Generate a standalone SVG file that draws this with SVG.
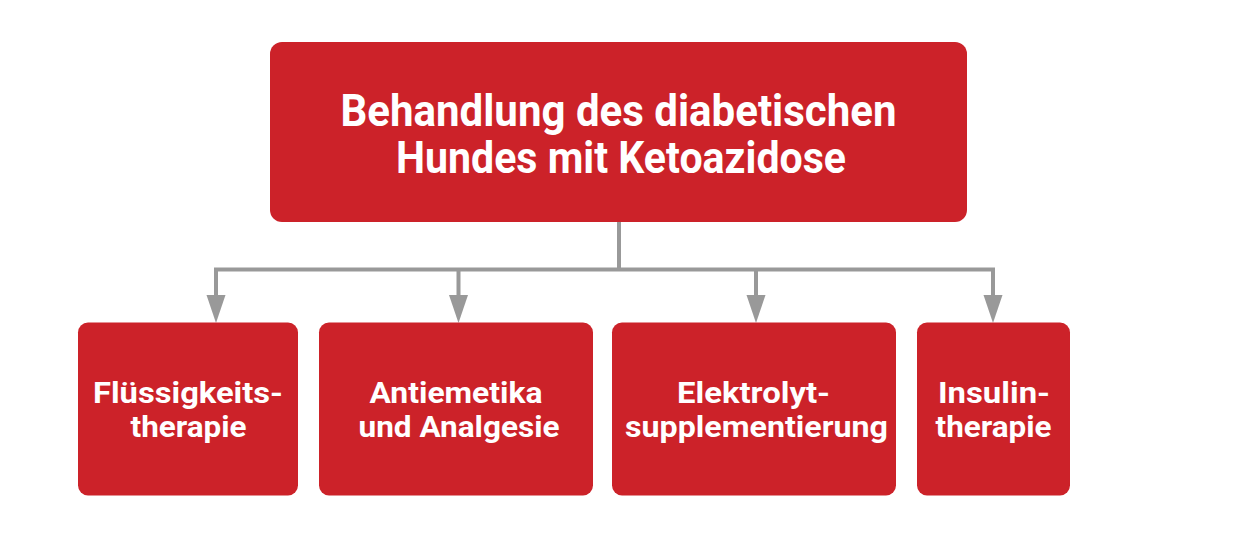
<svg xmlns="http://www.w3.org/2000/svg" width="1240" height="536" viewBox="0 0 1240 536">
  <defs>
    <style>
      .box { fill: #CC2229; }
      .title { font-family: Roboto, "Liberation Sans", sans-serif; font-weight: 700; font-size: 44px; fill: #ffffff; text-anchor: middle; }
      .lbl { font-family: Roboto, "Liberation Sans", sans-serif; font-weight: 700; font-size: 29px; fill: #ffffff; text-anchor: middle; }
      .conn { fill: none; stroke: #999999; stroke-width: 4; stroke-linejoin: miter; stroke-linecap: butt; }
      .head { fill: #999999; }
    </style>
  </defs>
  <rect width="1240" height="536" fill="#ffffff"/>

  <g id="connectors">
    <path class="conn" d="M619,222 V269.5 M216,296 V269.5 H993 V296 M458.5,269.5 V296 M756,269.5 V296"/>
    <polygon class="head" points="206.5,295 225.5,295 216,323"/>
    <polygon class="head" points="449,295 468,295 458.5,323"/>
    <polygon class="head" points="746.5,295 765.5,295 756,323"/>
    <polygon class="head" points="983.5,295 1002.5,295 993,323"/>
  </g>

  <g id="root">
    <rect class="box" x="270" y="42" width="697" height="180" rx="12"/>
    <text class="title" x="618.5" y="126" textLength="556" lengthAdjust="spacingAndGlyphs">Behandlung des diabetischen</text>
    <text class="title" x="621" y="173" textLength="450" lengthAdjust="spacingAndGlyphs">Hundes mit Ketoazidose</text>
  </g>

  <g id="fluessigkeitstherapie">
    <rect class="box" x="78" y="322.5" width="220" height="173" rx="10"/>
    <text class="lbl" x="188" y="403" textLength="190" lengthAdjust="spacingAndGlyphs">Flüssigkeits-</text>
    <text class="lbl" x="188.5" y="437" textLength="116" lengthAdjust="spacingAndGlyphs">therapie</text>
  </g>

  <g id="antiemetika">
    <rect class="box" x="319" y="322.5" width="274" height="173" rx="10"/>
    <text class="lbl" x="456" y="403" textLength="173" lengthAdjust="spacingAndGlyphs">Antiemetika</text>
    <text class="lbl" x="459" y="437" textLength="201" lengthAdjust="spacingAndGlyphs">und Analgesie</text>
  </g>

  <g id="elektrolyt">
    <rect class="box" x="612" y="322.5" width="284" height="173" rx="10"/>
    <text class="lbl" x="753.5" y="403" textLength="153" lengthAdjust="spacingAndGlyphs">Elektrolyt-</text>
    <text class="lbl" x="756.5" y="437" textLength="263" lengthAdjust="spacingAndGlyphs">supplementierung</text>
  </g>

  <g id="insulintherapie">
    <rect class="box" x="917" y="322.5" width="153" height="173" rx="10"/>
    <text class="lbl" x="994" y="403" textLength="112" lengthAdjust="spacingAndGlyphs">Insulin-</text>
    <text class="lbl" x="993.5" y="437" textLength="116" lengthAdjust="spacingAndGlyphs">therapie</text>
  </g>
</svg>
